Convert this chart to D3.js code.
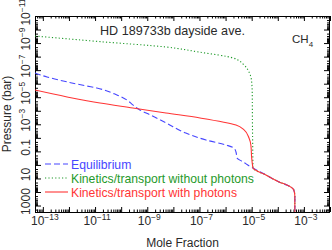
<!DOCTYPE html>
<html>
<head>
<meta charset="utf-8">
<script src="https://cdn.jsdelivr.net/npm/d3@7"></script>
<style>
  body { margin: 0; background: #fff; }
  text { font-family: "Liberation Sans", Arial, sans-serif; fill: #2a2a2a; }
</style>
</head>
<body>
<div id="plot"></div>
<script>
// equilibrium CH4
const eqFrac = [5.0e-14, 1.45e-13, 8.5e-13, 4.9e-12, 1.17e-11, 6.9e-11, 1.66e-10, 2.8e-10, 5.2e-10, 1.29e-9,
  5.2e-9, 3.0e-8, 1.78e-7, 1.05e-6, 2.1e-6, 2.5e-6, 2.75e-6, 4.7e-6, 9.3e-6, 1.12e-5,
  3.5e-5, 1.12e-4, 2.7e-4, 4.1e-4, 4.5e-4, 4.5e-4];
const eqPres = [1.6e-7, 3.2e-7, 7.4e-7, 1.5e-6, 2.1e-6, 6.8e-6, 1.6e-5, 3.7e-5, 8.7e-5, 2.0e-4,
  7.9e-4, 4.4e-3, 1.45e-2, 3.4e-2, 5.6e-2, 0.11, 0.31, 0.6, 1.4, 1.7,
  5.5, 18, 36, 71, 200, 3000];

// kinetics/transport without photons
const noPhotFrac = [5.0e-14, 1.55e-11, 5.2e-9, 9.5e-8, 1.95e-6, 5.1e-6, 7.9e-6, 9.8e-6, 1.05e-5, 1.07e-5,
  1.1e-5, 1.12e-5, 3.5e-5, 1.12e-4, 2.7e-4, 4.1e-4, 4.5e-4, 4.5e-4];
const noPhotPres = [3.0e-10, 7.8e-10, 1.95e-9, 4.6e-9, 1.26e-8, 4.2e-8, 1.38e-7, 5.4e-7, 4.9e-6, 1e-3,
  0.1, 1.7, 5.5, 18, 36, 71, 200, 3000];

// kinetics/transport with photons
const photFrac = [5.0e-14, 8.5e-13, 1.55e-11, 2.8e-10, 5.2e-9, 1.05e-7, 2.5e-6, 5.1e-6, 7.9e-6, 9.3e-6,
  1.0e-5, 1.1e-5, 1.12e-5, 3.5e-5, 1.12e-4, 2.7e-4, 4.1e-4, 4.5e-4, 4.5e-4];
const photPres = [2.95e-6, 9.5e-6, 2.7e-5, 6.2e-5, 1.45e-4, 3.4e-4, 1.12e-3, 2.6e-3, 1.02e-2, 3.4e-2,
  0.31, 1.4, 1.7, 5.5, 18, 36, 71, 200, 3000];

const xTickVals = [1e-13, 1e-11, 1e-9, 1e-7, 1e-5, 1e-3];
const xTickLabels = ["10^-13", "10^-11", "10^-9", "10^-7", "10^-5", "10^-3"];
const yTickVals = [1000, 10, 0.1, 1e-3, 1e-5, 1e-7, 1e-9, 1e-11];
const yTickLabels = ["1000", "10", "0.1", "10^-3", "10^-5", "10^-7", "10^-9", "10^-11"];

const legendNames = ["Equilibrium", "Kinetics/transport without photons", "Kinetics/transport with photons"];
const colors = ["#4646ff", "#1f9a2a", "#ff3535"];
const dashes = ["6,3", "1.2,2.2", null];

const w = 332, h = 250;
const pl = 35, pr = 330, pt = 16, pb = 212;

const svg = d3.select("#plot").append("svg").attr("width", w).attr("height", h);

const x = d3.scaleLog().domain([5e-14, 1e-2]).range([pl, pr]);
const y = d3.scaleLog().domain([1e-11, 3000]).range([pt, pb]);

function logTicks(scale) {
  const [a, b] = scale.domain();
  const minor = [], major = [];
  for (let e = Math.floor(Math.log10(a)); e <= Math.ceil(Math.log10(b)); e++) {
    for (let m = 1; m <= 9; m++) {
      const v = m * Math.pow(10, e);
      if (v < a * 0.999 || v > b * 1.001) continue;
      if (m == 1) major.push(v); else minor.push(v);
    }
  }
  return {minor, major};
}
const xt = logTicks(x), yt = logTicks(y);

function drawAxis(axisFn, scale, pos, vals, len) {
  const g = svg.append("g")
    .attr("transform", pos)
    .call(axisFn(scale).tickValues(vals).tickSize(-len).tickFormat(""));
  g.select(".domain").remove();
  g.selectAll("line").attr("stroke", "#000");
}
drawAxis(d3.axisBottom, x, "translate(0," + pb + ")", xt.minor, 2.5);
drawAxis(d3.axisBottom, x, "translate(0," + pb + ")", xt.major, 5);
drawAxis(d3.axisTop, x, "translate(0," + pt + ")", xt.minor, 2.5);
drawAxis(d3.axisTop, x, "translate(0," + pt + ")", xt.major, 5);
drawAxis(d3.axisLeft, y, "translate(" + pl + ",0)", yt.minor, 3);
drawAxis(d3.axisLeft, y, "translate(" + pl + ",0)", yt.major, 6);
drawAxis(d3.axisRight, y, "translate(" + pr + ",0)", yt.minor, 3);
drawAxis(d3.axisRight, y, "translate(" + pr + ",0)", yt.major, 6);

svg.append("rect")
  .attr("x", pl + 0.5).attr("y", pt + 0.5)
  .attr("width", pr - pl - 1).attr("height", pb - pt)
  .attr("fill", "none").attr("stroke", "#000");

// power-of-ten labels with superscript
function powLabel(t, label) {
  const parts = label.split("^");
  t.append("tspan").text(parts[0]);
  if (parts.length > 1) {
    t.append("tspan").attr("dy", -5.5).attr("font-size", 8.5).text(parts[1].replace("-", "\u2212"));
  }
}

xTickVals.forEach((v, i) => {
  const t = svg.append("text")
    .attr("x", x(v) + 2).attr("y", 225)
    .attr("text-anchor", "middle").attr("font-size", 12);
  powLabel(t, xTickLabels[i]);
});

yTickVals.forEach((v, i) => {
  const t = svg.append("text")
    .attr("transform", "translate(30," + (y(v) - 4) + ") rotate(-90)")
    .attr("text-anchor", "middle").attr("font-size", 12);
  powLabel(t, yTickLabels[i]);
});

svg.append("text")
  .attr("x", (pl + pr) / 2).attr("y", 247)
  .attr("text-anchor", "middle").attr("font-size", 12)
  .text("Mole Fraction");

svg.append("text")
  .attr("transform", "translate(11," + (pt + pb) / 2 + ") rotate(-90)")
  .attr("text-anchor", "middle").attr("font-size", 12)
  .text("Pressure (bar)");

svg.append("text")
  .attr("x", 100).attr("y", 35).attr("font-size", 12.6)
  .text("HD 189733b dayside ave.");

const ch4 = svg.append("text").attr("x", 292).attr("y", 43).attr("font-size", 11.5);
ch4.append("tspan").text("CH");
ch4.append("tspan").attr("dy", 3.5).attr("font-size", 8).text("4");

// curves
svg.append("clipPath").attr("id", "clip")
  .append("rect").attr("x", pl).attr("y", pt).attr("width", pr - pl).attr("height", pb - pt);

const line = d3.line()
  .x(d => x(d[0]))
  .y(d => y(d[1]))
  .curve(d3.curveMonotoneY);

const series = [
  d3.zip(eqFrac, eqPres),
  d3.zip(noPhotFrac, noPhotPres),
  d3.zip(photFrac, photPres)
];

[1, 0, 2].forEach(i => {
  svg.append("path")
    .attr("clip-path", "url(#clip)")
    .attr("d", line(series[i]))
    .attr("fill", "none")
    .attr("stroke", colors[i])
    .attr("stroke-width", 1.1)
    .attr("stroke-dasharray", dashes[i]);
});

// legend
legendNames.forEach((name, i) => {
  const ly = 164 + i * 14;
  svg.append("line")
    .attr("x1", 45).attr("x2", 68).attr("y1", ly).attr("y2", ly)
    .attr("stroke", colors[i]).attr("stroke-width", 1.1)
    .attr("stroke-dasharray", dashes[i]);
  svg.append("text")
    .attr("x", 71).attr("y", ly + 4.5).attr("font-size", 12.2)
    .style("fill", colors[i])
    .text(name);
});
</script>
</body>
</html>
